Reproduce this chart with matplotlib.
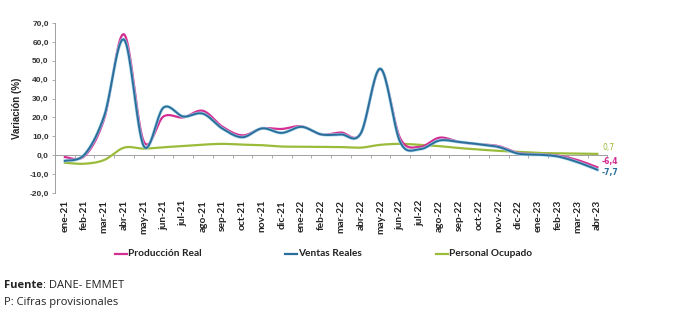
import numpy as np
import matplotlib
matplotlib.use("Agg")
import matplotlib.pyplot as plt
from matplotlib.ticker import FuncFormatter

months = ["ene-21", "feb-21", "mar-21", "abr-21", "may-21", "jun-21", "jul-21",
          "ago-21", "sep-21", "oct-21", "nov-21", "dic-21", "ene-22", "feb-22",
          "mar-22", "abr-22", "may-22", "jun-22", "jul-22", "ago-22", "sep-22",
          "oct-22", "nov-22", "dic-22", "ene-23", "feb-23", "mar-23", "abr-23"]

produccion = [-1.0, -0.4, 19.5, 64.0, 7.3, 20.5, 20.0, 23.5, 15.0, 10.5, 14.2, 13.9,
              15.3, 11.0, 12.0, 11.5, 45.5, 9.0, 4.4, 9.3, 7.0, 5.8, 4.8, 1.2,
              0.5, -0.2, -2.6, -6.4]
ventas = [-3.0, 0.4, 21.0, 61.2, 4.8, 25.2, 20.5, 22.0, 14.0, 9.5, 14.2, 11.8,
          15.0, 11.0, 11.0, 11.5, 45.8, 7.0, 3.2, 7.8, 7.0, 5.8, 4.3, 0.8,
          0.3, -0.7, -3.7, -7.7]
personal = [-4.0, -4.5, -2.5, 4.0, 3.5, 4.2, 4.9, 5.6, 6.0, 5.6, 5.3, 4.6,
            4.5, 4.4, 4.3, 4.0, 5.5, 6.0, 5.5, 4.8, 3.8, 3.0, 2.3, 1.8,
            1.2, 1.0, 0.9, 0.7]

series_names = ["Producción Real", "Ventas Reales", "Personal Ocupado"]
colors = ["#D42E93", "#2A6F9B", "#9BBB3A"]
end_labels = ["-6,4", "-7,7", "0,7"]


def smooth(y, n=20):
    y = np.asarray(y, float)
    x = np.arange(len(y), dtype=float)
    P = np.column_stack([x, y])
    ext = np.vstack([P[0], P, P[-1]])
    out = []
    t = np.linspace(0, 1, n, endpoint=False)[:, None]
    for i in range(len(P) - 1):
        p0, p1, p2, p3 = ext[i], ext[i + 1], ext[i + 2], ext[i + 3]
        c1 = p1 + (p2 - p0) / 6.0
        c2 = p2 - (p3 - p1) / 6.0
        b = ((1 - t) ** 3) * p1 + 3 * ((1 - t) ** 2) * t * c1 + 3 * (1 - t) * t ** 2 * c2 + t ** 3 * p2
        out.append(b)
    out.append(P[-1][None, :])
    out = np.vstack(out)
    return out[:, 0], out[:, 1]


W, H = 692.0, 328.0
fig = plt.figure(figsize=(6.92, 3.28), dpi=100)
ax = fig.add_axes([0.0795, 0.4116, 0.798, 0.5184])

xs, ys = smooth(personal)
ax.plot(xs, ys, color=colors[2], lw=1.6, zorder=2)
xs, ys = smooth(produccion)
ax.plot(xs, ys, color=colors[0], lw=1.6, zorder=3)
xs, ys = smooth(ventas)
ax.plot(xs, ys, color="#9FD6EA", lw=2.4, zorder=3.5, alpha=0.8)
ax.plot(xs, ys, color=colors[1], lw=1.4, zorder=4)

n = len(months)
ax.set_xlim(-0.5, n - 0.5)
ax.set_ylim(-20, 70)
ax.set_yticks(np.arange(-20, 71, 10))
ax.yaxis.set_major_formatter(FuncFormatter(lambda v, p: f"{v:.1f}".replace(".", ",")))
for lab in ax.get_yticklabels():
    lab.set_fontfamily("Liberation Sans")
    lab.set_fontweight("bold")
ax.tick_params(axis="y", labelsize=6, length=2.5, width=0.6, color="#A0A0A0", pad=2, labelcolor="#333333")
ax.set_ylabel("Variación (%)", fontsize=7, fontweight="bold", family="Liberation Sans", labelpad=5, color="#222222")

ax.set_xticks(np.arange(n))
ax.set_xticklabels(months, rotation=90, fontsize=7.3, fontweight="bold", family="Lato", color="#222222")
ax.tick_params(axis="x", length=0, pad=5)

for s in ["top", "right", "bottom"]:
    ax.spines[s].set_visible(False)
ax.spines["left"].set_color("#A0A0A0")
ax.spines["left"].set_linewidth(0.7)

sec = ax.secondary_xaxis(20.0 / 90.0)
sec.set_xticks(np.arange(n + 1) - 0.5)
sec.set_xticklabels([])
sec.tick_params(axis="x", length=2.5, width=0.6, color="#A0A0A0", direction="out")
sec.spines["bottom"].set_color("#A0A0A0")
sec.spines["bottom"].set_linewidth(0.7)

# end labels
last = n - 1
ax.annotate(end_labels[2], (last, personal[-1]), xytext=(4, 1.5), textcoords="offset points",
            fontsize=5.5, color=colors[2], va="bottom", ha="left")
ax.annotate(end_labels[0], (last, produccion[-1]), xytext=(3, 1), textcoords="offset points",
            fontsize=5.5, color=colors[0], va="bottom", ha="left", fontweight="bold")
ax.annotate(end_labels[1], (last, ventas[-1]), xytext=(3, -2), textcoords="offset points",
            fontsize=5.5, color=colors[1], va="center", ha="left", fontweight="bold")

# legend
leg_items = [(115, series_names[0], colors[0]), (285, series_names[1], colors[1]), (436, series_names[2], colors[2])]
for x0, name, c in leg_items:
    ly = 1 - 254.0 / H
    fig.add_artist(plt.Line2D([x0 / W, (x0 + 12) / W], [ly, ly], color=c, lw=1.6))
    fig.text((x0 + 13) / W, ly, name, fontsize=7.3, fontweight="bold", family="Lato",
             va="center", ha="left", color="#222222")

# footer
fb = fig.text(4 / W, 1 - 286 / H, "Fuente", fontsize=8, family="Open Sans", fontweight="bold",
              va="center", color="#222222")
fig.canvas.draw()
bb = fb.get_window_extent()
fig.text(bb.x1 / W, 1 - 286 / H, ": DANE- EMMET", fontsize=8, family="Open Sans", va="center", color="#222222")
fig.text(4 / W, 1 - 303 / H, "P: Cifras provisionales", fontsize=8, family="Open Sans", va="center", color="#222222")

fig.savefig("out.png", dpi=100, facecolor="white")
